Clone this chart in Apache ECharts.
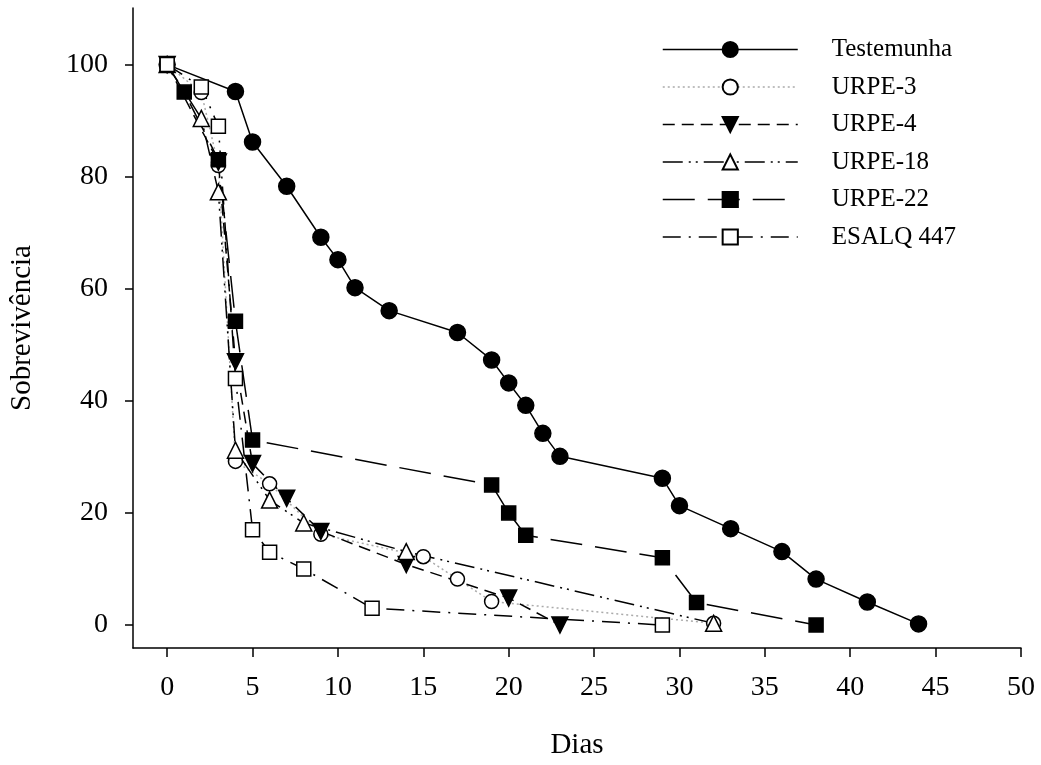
<!DOCTYPE html>
<html>
<head>
<meta charset="utf-8">
<script src="https://cdn.jsdelivr.net/npm/echarts@6/dist/echarts.min.js"></script>
<style>
  html, body { margin: 0; padding: 0; background: #fff; }
  #main { width: 1041px; height: 765px; }
</style>
</head>
<body>
<div id="main"></div>
<script>
// dias / sobrevivencia
var testemunhaX = [0, 4, 5, 7, 9, 10, 11, 13, 17, 19, 20, 21, 22, 23, 29, 30, 33, 36, 38, 41, 44];
var testemunhaY = [100, 95.2, 86.2, 78.3, 69.2, 65.2, 60.2, 56.1, 52.2, 47.3, 43.2, 39.2, 34.2, 30.1, 26.2, 21.3, 17.2, 13.1, 8.2, 4.1, 0.2];

var urpe3X = [0, 2, 3, 4, 6, 9, 15, 17, 19, 32];
var urpe3Y = [100, 95, 82, 29.2, 25.2, 16.2, 12.2, 8.2, 4.2, 0.3];

var urpe4X = [0, 3, 4, 5, 7, 9, 14, 20, 23];
var urpe4Y = [100, 82.6, 47, 28.8, 22.6, 16.7, 10.8, 4.8, 0];

var urpe18X = [0, 2, 3, 4, 6, 8, 14, 32];
var urpe18Y = [100, 90.4, 77.3, 31.2, 22.3, 18.2, 13.1, 0.3];

var urpe22X = [0, 1, 3, 4, 5, 19, 20, 21, 29, 31, 38];
var urpe22Y = [100, 95.1, 83, 54.2, 33, 25, 20, 16, 12, 4, 0];

var esalqX = [0, 2, 3, 4, 5, 6, 8, 12, 29];
var esalqY = [100, 96, 89, 44, 17, 13, 10, 3, 0];

var xTicks = [0, 5, 10, 15, 20, 25, 30, 35, 40, 45, 50];
var yTicks = [0, 20, 40, 60, 80, 100];

function pares(xs, ys) {
    var out = [];
    for (var i = 0; i < xs.length; i++) {
        out.push([xs[i], ys[i]]);
    }
    return out;
}

var fonte = '"Liberation Serif", "Times New Roman", serif';

var chartObj = echarts.init(document.getElementById('main'));

function serie(nome, xs, ys, simbolo, tam, cheio, tipoLinha, corLinha, rot) {
    return {
        name: nome,
        type: 'line',
        data: pares(xs, ys),
        symbol: simbolo,
        symbolSize: tam,
        symbolRotate: rot || 0,
        showAllSymbol: true,
        lineStyle: { color: corLinha || '#000', width: 1.5, type: tipoLinha },
        itemStyle: {
            color: cheio ? '#000' : '#fff',
            borderColor: '#000',
            borderWidth: 1.5,
            opacity: 1
        },
        emphasis: { disabled: true }
    };
}

var chartOpt = {
    animation: false,
    backgroundColor: '#fff',
    grid: { left: 133, right: 20, top: 8, bottom: 113 },
    legend: {
        orient: 'vertical',
        left: 657,
        top: 32,
        itemWidth: 135,
        itemHeight: 19,
        itemGap: 12.5,
        selectedMode: false,
        lineStyle: { width: 1.5 },
        textStyle: {
            fontFamily: fonte,
            fontSize: 25,
            color: '#000',
            lineHeight: 19,
            padding: [0, 0, 0, 29]
        },
        data: ['Testemunha', 'URPE-3', 'URPE-4', 'URPE-18', 'URPE-22', 'ESALQ 447']
    },
    xAxis: {
        type: 'value',
        min: -2,
        max: 50,
        name: 'Dias',
        nameLocation: 'middle',
        nameGap: 83,
        nameTextStyle: { fontFamily: fonte, fontSize: 29, color: '#000' },
        splitLine: { show: false },
        axisLine: { show: true, onZero: false, lineStyle: { color: '#000', width: 1.5 } },
        axisTick: {
            show: true, length: 9, inside: false,
            customValues: xTicks,
            lineStyle: { color: '#000', width: 1.5 }
        },
        axisLabel: {
            customValues: xTicks,
            margin: 26,
            fontFamily: fonte,
            fontSize: 28,
            color: '#000'
        }
    },
    yAxis: {
        type: 'value',
        min: -4.1,
        max: 110.1,
        name: 'Sobrevivência',
        nameLocation: 'middle',
        nameGap: 96,
        nameTextStyle: { fontFamily: fonte, fontSize: 29, color: '#000' },
        splitLine: { show: false },
        axisLine: { show: true, onZero: false, lineStyle: { color: '#000', width: 1.5 } },
        axisTick: {
            show: true, length: 8, inside: false,
            customValues: yTicks,
            lineStyle: { color: '#000', width: 1.5 }
        },
        axisLabel: {
            customValues: yTicks,
            margin: 25,
            fontFamily: fonte,
            fontSize: 28,
            color: '#000'
        }
    },
    series: [
        serie('Testemunha', testemunhaX, testemunhaY, 'circle', 16, true, 'solid'),
        serie('URPE-3', urpe3X, urpe3Y, 'circle', 14, false, [2, 3], '#aaa'),
        serie('URPE-4', urpe4X, urpe4Y, 'triangle', 16, true, [12, 7], '#000', 180),
        serie('URPE-18', urpe18X, urpe18Y, 'triangle', 16, false, [20, 6, 2, 5, 2, 6]),
        serie('URPE-22', urpe22X, urpe22Y, 'rect', 14, true, [32, 13]),
        serie('ESALQ 447', esalqX, esalqY, 'rect', 14, false, [18, 8, 2, 8])
    ]
};

chartObj.setOption(chartOpt);
</script>
</body>
</html>
